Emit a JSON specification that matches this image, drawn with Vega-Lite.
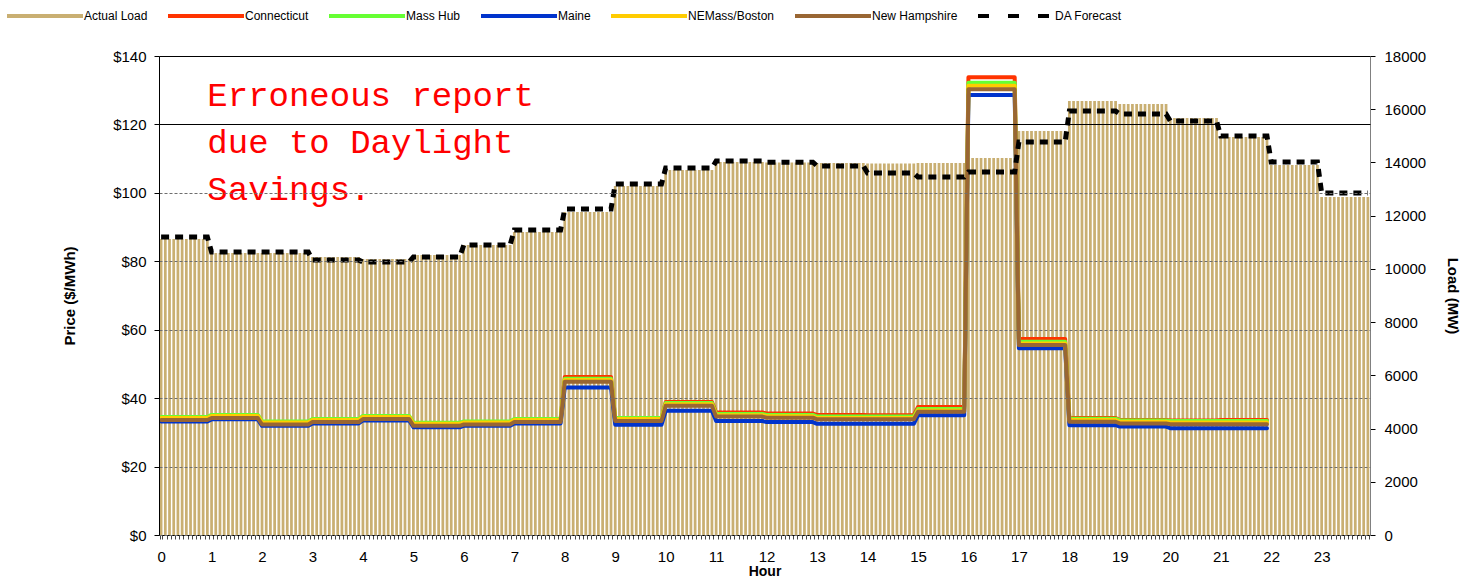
{
"$schema":"https://vega.github.io/schema/vega-lite/v6.json",
"width":1211,"height":479,
"autosize":{"type":"none"},
"padding":{"left":159,"top":56,"right":103,"bottom":44},
"background":"white",
"config":{"view":{"stroke":null},"font":"Liberation Sans, Arial, sans-serif"},
"datasets":{
"load":[
{"i":0,"L":11120},{"i":1,"L":11120},{"i":2,"L":11120},{"i":3,"L":11120},{"i":4,"L":11120},{"i":5,"L":11120},{"i":6,"L":11120},{"i":7,"L":11120},{"i":8,"L":11120},{"i":9,"L":11120},{"i":10,"L":11120},{"i":11,"L":11120},
{"i":12,"L":10600},{"i":13,"L":10600},{"i":14,"L":10600},{"i":15,"L":10600},{"i":16,"L":10600},{"i":17,"L":10600},{"i":18,"L":10600},{"i":19,"L":10600},{"i":20,"L":10600},{"i":21,"L":10600},{"i":22,"L":10600},{"i":23,"L":10600},
{"i":24,"L":10600},{"i":25,"L":10600},{"i":26,"L":10600},{"i":27,"L":10600},{"i":28,"L":10600},{"i":29,"L":10600},{"i":30,"L":10600},{"i":31,"L":10600},{"i":32,"L":10600},{"i":33,"L":10600},{"i":34,"L":10600},{"i":35,"L":10600},
{"i":36,"L":10450},{"i":37,"L":10450},{"i":38,"L":10450},{"i":39,"L":10450},{"i":40,"L":10450},{"i":41,"L":10450},{"i":42,"L":10450},{"i":43,"L":10450},{"i":44,"L":10450},{"i":45,"L":10450},{"i":46,"L":10450},{"i":47,"L":10450},
{"i":48,"L":10370},{"i":49,"L":10370},{"i":50,"L":10370},{"i":51,"L":10370},{"i":52,"L":10370},{"i":53,"L":10370},{"i":54,"L":10370},{"i":55,"L":10370},{"i":56,"L":10370},{"i":57,"L":10370},{"i":58,"L":10370},{"i":59,"L":10370},
{"i":60,"L":10520},{"i":61,"L":10520},{"i":62,"L":10520},{"i":63,"L":10520},{"i":64,"L":10520},{"i":65,"L":10520},{"i":66,"L":10520},{"i":67,"L":10520},{"i":68,"L":10520},{"i":69,"L":10520},{"i":70,"L":10520},{"i":71,"L":10520},
{"i":72,"L":10900},{"i":73,"L":10900},{"i":74,"L":10900},{"i":75,"L":10900},{"i":76,"L":10900},{"i":77,"L":10900},{"i":78,"L":10900},{"i":79,"L":10900},{"i":80,"L":10900},{"i":81,"L":10900},{"i":82,"L":10900},{"i":83,"L":10900},
{"i":84,"L":11390},{"i":85,"L":11390},{"i":86,"L":11390},{"i":87,"L":11390},{"i":88,"L":11390},{"i":89,"L":11390},{"i":90,"L":11390},{"i":91,"L":11390},{"i":92,"L":11390},{"i":93,"L":11390},{"i":94,"L":11390},{"i":95,"L":11390},
{"i":96,"L":12140},{"i":97,"L":12140},{"i":98,"L":12140},{"i":99,"L":12140},{"i":100,"L":12140},{"i":101,"L":12140},{"i":102,"L":12140},{"i":103,"L":12140},{"i":104,"L":12140},{"i":105,"L":12140},{"i":106,"L":12140},{"i":107,"L":12140},
{"i":108,"L":13115},{"i":109,"L":13115},{"i":110,"L":13115},{"i":111,"L":13115},{"i":112,"L":13115},{"i":113,"L":13115},{"i":114,"L":13115},{"i":115,"L":13115},{"i":116,"L":13115},{"i":117,"L":13115},{"i":118,"L":13115},{"i":119,"L":13115},
{"i":120,"L":13720},{"i":121,"L":13720},{"i":122,"L":13720},{"i":123,"L":13720},{"i":124,"L":13720},{"i":125,"L":13720},{"i":126,"L":13720},{"i":127,"L":13720},{"i":128,"L":13720},{"i":129,"L":13720},{"i":130,"L":13720},{"i":131,"L":13720},
{"i":132,"L":14020},{"i":133,"L":14020},{"i":134,"L":14020},{"i":135,"L":14020},{"i":136,"L":14020},{"i":137,"L":14020},{"i":138,"L":14020},{"i":139,"L":14020},{"i":140,"L":14020},{"i":141,"L":14020},{"i":142,"L":14020},{"i":143,"L":14020},
{"i":144,"L":14000},{"i":145,"L":14000},{"i":146,"L":14000},{"i":147,"L":14000},{"i":148,"L":14000},{"i":149,"L":14000},{"i":150,"L":14000},{"i":151,"L":14000},{"i":152,"L":14000},{"i":153,"L":14000},{"i":154,"L":14000},{"i":155,"L":14000},
{"i":156,"L":13980},{"i":157,"L":13980},{"i":158,"L":13980},{"i":159,"L":13980},{"i":160,"L":13980},{"i":161,"L":13980},{"i":162,"L":13980},{"i":163,"L":13980},{"i":164,"L":13980},{"i":165,"L":13980},{"i":166,"L":13980},{"i":167,"L":13980},
{"i":168,"L":13960},{"i":169,"L":13960},{"i":170,"L":13960},{"i":171,"L":13960},{"i":172,"L":13960},{"i":173,"L":13960},{"i":174,"L":13960},{"i":175,"L":13960},{"i":176,"L":13960},{"i":177,"L":13960},{"i":178,"L":13960},{"i":179,"L":13960},
{"i":180,"L":13980},{"i":181,"L":13980},{"i":182,"L":13980},{"i":183,"L":13980},{"i":184,"L":13980},{"i":185,"L":13980},{"i":186,"L":13980},{"i":187,"L":13980},{"i":188,"L":13980},{"i":189,"L":13980},{"i":190,"L":13980},{"i":191,"L":13980},
{"i":192,"L":14170},{"i":193,"L":14170},{"i":194,"L":14170},{"i":195,"L":14170},{"i":196,"L":14170},{"i":197,"L":14170},{"i":198,"L":14170},{"i":199,"L":14170},{"i":200,"L":14170},{"i":201,"L":14170},{"i":202,"L":14170},{"i":203,"L":14170},
{"i":204,"L":15180},{"i":205,"L":15180},{"i":206,"L":15180},{"i":207,"L":15180},{"i":208,"L":15180},{"i":209,"L":15180},{"i":210,"L":15180},{"i":211,"L":15180},{"i":212,"L":15180},{"i":213,"L":15180},{"i":214,"L":15180},{"i":215,"L":15180},
{"i":216,"L":16310},{"i":217,"L":16310},{"i":218,"L":16310},{"i":219,"L":16310},{"i":220,"L":16310},{"i":221,"L":16310},{"i":222,"L":16310},{"i":223,"L":16310},{"i":224,"L":16310},{"i":225,"L":16310},{"i":226,"L":16310},{"i":227,"L":16310},
{"i":228,"L":16200},{"i":229,"L":16200},{"i":230,"L":16200},{"i":231,"L":16200},{"i":232,"L":16200},{"i":233,"L":16200},{"i":234,"L":16200},{"i":235,"L":16200},{"i":236,"L":16200},{"i":237,"L":16200},{"i":238,"L":16200},{"i":239,"L":16200},
{"i":240,"L":15670},{"i":241,"L":15670},{"i":242,"L":15670},{"i":243,"L":15670},{"i":244,"L":15670},{"i":245,"L":15670},{"i":246,"L":15670},{"i":247,"L":15670},{"i":248,"L":15670},{"i":249,"L":15670},{"i":250,"L":15670},{"i":251,"L":15670},
{"i":252,"L":14960},{"i":253,"L":14960},{"i":254,"L":14960},{"i":255,"L":14960},{"i":256,"L":14960},{"i":257,"L":14960},{"i":258,"L":14960},{"i":259,"L":14960},{"i":260,"L":14960},{"i":261,"L":14960},{"i":262,"L":14960},{"i":263,"L":14960},
{"i":264,"L":13900},{"i":265,"L":13900},{"i":266,"L":13900},{"i":267,"L":13900},{"i":268,"L":13900},{"i":269,"L":13900},{"i":270,"L":13900},{"i":271,"L":13900},{"i":272,"L":13900},{"i":273,"L":13900},{"i":274,"L":13900},{"i":275,"L":13900},
{"i":276,"L":12700},{"i":277,"L":12700},{"i":278,"L":12700},{"i":279,"L":12700},{"i":280,"L":12700},{"i":281,"L":12700},{"i":282,"L":12700},{"i":283,"L":12700},{"i":284,"L":12700},{"i":285,"L":12700},{"i":286,"L":12700},{"i":287,"L":12700}
],
"price":[
{"i":0,"Connecticut":34.1,"Mass Hub":34.5,"Maine":33.2,"NEMass/Boston":34.2,"New Hampshire":33.6},
{"i":11,"Connecticut":34.1,"Mass Hub":34.5,"Maine":33.2,"NEMass/Boston":34.2,"New Hampshire":33.6},
{"i":12,"Connecticut":34.7,"Mass Hub":35.1,"Maine":33.8,"NEMass/Boston":34.8,"New Hampshire":34.2},
{"i":23,"Connecticut":34.7,"Mass Hub":35.1,"Maine":33.8,"NEMass/Boston":34.8,"New Hampshire":34.2},
{"i":24,"Connecticut":32.8,"Mass Hub":33.2,"Maine":31.9,"NEMass/Boston":32.9,"New Hampshire":32.3},
{"i":35,"Connecticut":32.8,"Mass Hub":33.2,"Maine":31.9,"NEMass/Boston":32.9,"New Hampshire":32.3},
{"i":36,"Connecticut":33.5,"Mass Hub":33.9,"Maine":32.6,"NEMass/Boston":33.6,"New Hampshire":33.0},
{"i":47,"Connecticut":33.5,"Mass Hub":33.9,"Maine":32.6,"NEMass/Boston":33.6,"New Hampshire":33.0},
{"i":48,"Connecticut":34.4,"Mass Hub":34.8,"Maine":33.5,"NEMass/Boston":34.5,"New Hampshire":33.9},
{"i":59,"Connecticut":34.4,"Mass Hub":34.8,"Maine":33.5,"NEMass/Boston":34.5,"New Hampshire":33.9},
{"i":60,"Connecticut":32.4,"Mass Hub":32.8,"Maine":31.5,"NEMass/Boston":32.5,"New Hampshire":31.9},
{"i":71,"Connecticut":32.4,"Mass Hub":32.8,"Maine":31.5,"NEMass/Boston":32.5,"New Hampshire":31.9},
{"i":72,"Connecticut":32.8,"Mass Hub":33.2,"Maine":31.9,"NEMass/Boston":32.9,"New Hampshire":32.3},
{"i":83,"Connecticut":32.8,"Mass Hub":33.2,"Maine":31.9,"NEMass/Boston":32.9,"New Hampshire":32.3},
{"i":84,"Connecticut":33.5,"Mass Hub":33.9,"Maine":32.6,"NEMass/Boston":33.6,"New Hampshire":33.0},
{"i":95,"Connecticut":33.5,"Mass Hub":33.9,"Maine":32.6,"NEMass/Boston":33.6,"New Hampshire":33.0},
{"i":96,"Connecticut":46.2,"Mass Hub":45.7,"Maine":43.1,"NEMass/Boston":45.3,"New Hampshire":44.8},
{"i":107,"Connecticut":46.2,"Mass Hub":45.7,"Maine":43.1,"NEMass/Boston":45.3,"New Hampshire":44.8},
{"i":108,"Connecticut":33.8,"Mass Hub":34.2,"Maine":32.2,"NEMass/Boston":33.9,"New Hampshire":33.3},
{"i":119,"Connecticut":33.8,"Mass Hub":34.2,"Maine":32.2,"NEMass/Boston":33.9,"New Hampshire":33.3},
{"i":120,"Connecticut":38.9,"Mass Hub":38.6,"Maine":36.3,"NEMass/Boston":38.2,"New Hampshire":37.8},
{"i":131,"Connecticut":38.9,"Mass Hub":38.6,"Maine":36.3,"NEMass/Boston":38.2,"New Hampshire":37.8},
{"i":132,"Connecticut":35.8,"Mass Hub":35.4,"Maine":33.3,"NEMass/Boston":35.0,"New Hampshire":34.6},
{"i":143,"Connecticut":35.8,"Mass Hub":35.4,"Maine":33.3,"NEMass/Boston":35.0,"New Hampshire":34.6},
{"i":144,"Connecticut":35.5,"Mass Hub":35.1,"Maine":33.0,"NEMass/Boston":34.7,"New Hampshire":34.3},
{"i":155,"Connecticut":35.5,"Mass Hub":35.1,"Maine":33.0,"NEMass/Boston":34.7,"New Hampshire":34.3},
{"i":156,"Connecticut":35.1,"Mass Hub":34.6,"Maine":32.5,"NEMass/Boston":34.2,"New Hampshire":33.8},
{"i":167,"Connecticut":35.1,"Mass Hub":34.6,"Maine":32.5,"NEMass/Boston":34.2,"New Hampshire":33.8},
{"i":168,"Connecticut":35.0,"Mass Hub":34.6,"Maine":32.5,"NEMass/Boston":34.2,"New Hampshire":33.8},
{"i":179,"Connecticut":35.0,"Mass Hub":34.6,"Maine":32.5,"NEMass/Boston":34.2,"New Hampshire":33.8},
{"i":180,"Connecticut":37.4,"Mass Hub":36.8,"Maine":35.0,"NEMass/Boston":36.4,"New Hampshire":36.0},
{"i":191,"Connecticut":37.4,"Mass Hub":36.8,"Maine":35.0,"NEMass/Boston":36.4,"New Hampshire":36.0},
{"i":192,"Connecticut":133.8,"Mass Hub":132.2,"Maine":128.6,"NEMass/Boston":131.3,"New Hampshire":130.3},
{"i":203,"Connecticut":133.8,"Mass Hub":132.2,"Maine":128.6,"NEMass/Boston":131.3,"New Hampshire":130.3},
{"i":204,"Connecticut":57.3,"Mass Hub":56.5,"Maine":54.6,"NEMass/Boston":56.0,"New Hampshire":55.5},
{"i":215,"Connecticut":57.3,"Mass Hub":56.5,"Maine":54.6,"NEMass/Boston":56.0,"New Hampshire":55.5},
{"i":216,"Connecticut":34.2,"Mass Hub":34.0,"Maine":32.1,"NEMass/Boston":33.6,"New Hampshire":33.1},
{"i":227,"Connecticut":34.2,"Mass Hub":34.0,"Maine":32.1,"NEMass/Boston":33.6,"New Hampshire":33.1},
{"i":228,"Connecticut":33.6,"Mass Hub":33.5,"Maine":31.7,"NEMass/Boston":33.1,"New Hampshire":32.6},
{"i":239,"Connecticut":33.6,"Mass Hub":33.5,"Maine":31.7,"NEMass/Boston":33.1,"New Hampshire":32.6},
{"i":240,"Connecticut":33.5,"Mass Hub":33.3,"Maine":31.2,"NEMass/Boston":32.9,"New Hampshire":32.4},
{"i":251,"Connecticut":33.5,"Mass Hub":33.3,"Maine":31.2,"NEMass/Boston":32.9,"New Hampshire":32.4},
{"i":252,"Connecticut":33.6,"Mass Hub":33.3,"Maine":31.2,"NEMass/Boston":32.9,"New Hampshire":32.4},
{"i":263,"Connecticut":33.6,"Mass Hub":33.3,"Maine":31.2,"NEMass/Boston":32.9,"New Hampshire":32.4}
],
"da":[
{"i":0,"f":11200},{"i":11,"f":11200},{"i":12,"f":10630},{"i":23,"f":10630},{"i":24,"f":10630},{"i":35,"f":10630},
{"i":36,"f":10330},{"i":47,"f":10330},{"i":48,"f":10260},{"i":59,"f":10260},{"i":60,"f":10450},{"i":71,"f":10450},
{"i":72,"f":10900},{"i":83,"f":10900},{"i":84,"f":11460},{"i":95,"f":11460},{"i":96,"f":12250},{"i":107,"f":12250},
{"i":108,"f":13190},{"i":119,"f":13190},{"i":120,"f":13790},{"i":131,"f":13790},{"i":132,"f":14050},{"i":143,"f":14050},
{"i":144,"f":14010},{"i":155,"f":14010},{"i":156,"f":13870},{"i":167,"f":13870},{"i":168,"f":13600},{"i":179,"f":13600},
{"i":180,"f":13450},{"i":191,"f":13450},{"i":192,"f":13640},{"i":203,"f":13640},{"i":204,"f":14770},{"i":215,"f":14770},
{"i":216,"f":15930},{"i":227,"f":15930},{"i":228,"f":15820},{"i":239,"f":15820},{"i":240,"f":15560},{"i":251,"f":15560},
{"i":252,"f":14990},{"i":263,"f":14990},{"i":264,"f":14020},{"i":275,"f":14020},{"i":276,"f":12850},{"i":287,"f":12850}
],
"note":[
{"t":"Erroneous report","p":125.4},
{"t":"due to Daylight","p":111.65},
{"t":"Savings.","p":97.9}
]
},
"layer":[
{
"data":{"name":"load"},
"mark":{"type":"bar","color":"#C9AF72"},
"encoding":{
"x":{"field":"i","type":"ordinal","scale":{"paddingInner":0.35,"paddingOuter":0.175},
"axis":{"title":"Hour","labelExpr":"datum.value % 12 === 0 ? '' + (datum.value / 12) : ''","labelAngle":0,"labelOverlap":false,"labelFontSize":15,"labelColor":"#000","labelPadding":10,"tickBand":"extent","tickSize":4,"tickColor":"#444","domainColor":"#000","titleFontSize":14,"titleFontWeight":"bold","titleColor":"#000","titlePadding":0}},
"y":{"field":"L","type":"quantitative","scale":{"domain":[0,18000],"nice":false},
"axis":{"orient":"right","values":[0,2000,4000,6000,8000,10000,12000,14000,16000,18000],"format":"d","grid":false,"domainColor":"#808080","tickColor":"#000","tickSize":5,"labelFontSize":15,"labelColor":"#000","labelPadding":9,"title":"Load (MW)","titleFontSize":15,"titleFontWeight":"bold","titleColor":"#000","titlePadding":19}}
}
},
{
"data":{"name":"price"},
"transform":[{"fold":["Connecticut","Mass Hub","Maine","NEMass/Boston","New Hampshire"],"as":["s","p"]}],
"mark":{"type":"line","strokeWidth":4,"strokeJoin":"round","strokeCap":"round"},
"encoding":{
"x":{"field":"i","type":"ordinal"},
"y":{"field":"p","type":"quantitative","scale":{"domain":[0,140],"nice":false},
"axis":{"orient":"left","values":[0,20,40,60,80,100,120,140],"format":"$,.0f","grid":true,"zindex":1,
"gridColor":{"condition":{"test":"datum.value >= 120","value":"#000000"},"value":"#6e6e6e"},
"gridDash":{"condition":{"test":"datum.value >= 120","value":[]},"value":[3,2]},
"gridWidth":1.2,"domainColor":"#000","tickColor":"#000","tickSize":5,"labelFontSize":15,"labelColor":"#000","labelPadding":8,"title":"Price ($/MWh)","titleFontSize":15,"titleFontWeight":"bold","titleColor":"#000","titlePadding":35}},
"color":{"field":"s","type":"nominal",
"scale":{"domain":["Actual Load","Connecticut","Mass Hub","Maine","NEMass/Boston","New Hampshire","DA Forecast"],"range":["#C9AF72","#FF3300","#66FF33","#0033CC","#FFCC00","#996633","#000000"]},
"legend":{"orient":"none","legendX":-154,"legendY":-80,"direction":"horizontal","columns":7,"title":null,"symbolType":"stroke","symbolSize":5776,"symbolStrokeWidth":4,"labelFontSize":12,"labelColor":"#000","labelOffset":-1,"columnPadding":12,"padding":0,
"encode":{"symbols":{"update":{
"stroke":{"signal":"scale('color', datum.value)"},
"fill":{"value":"transparent"},
"strokeDash":{"signal":"datum.value === 'DA Forecast' ? [11,19] : [1,0]"},
"opacity":{"value":1}}}}}
}
}
},
{
"data":{"name":"da"},
"mark":{"type":"line","color":"#000000","strokeWidth":5,"strokeDash":[8,6],"strokeCap":"butt"},
"encoding":{
"x":{"field":"i","type":"ordinal"},
"y":{"field":"f","type":"quantitative","scale":{"domain":[0,18000],"nice":false},"axis":null}
}
},
{
"data":{"name":"note"},
"mark":{"type":"text","align":"left","baseline":"alphabetic","font":"Courier New, Liberation Mono, monospace","fontSize":34,"color":"#FF0000"},
"encoding":{
"x":{"datum":11,"type":"ordinal"},
"y":{"field":"p","type":"quantitative","scale":{"domain":[0,140],"nice":false},"axis":null},
"text":{"field":"t"}
}
}
],
"resolve":{"scale":{"y":"independent"},"axis":{"y":"independent"}}
}
